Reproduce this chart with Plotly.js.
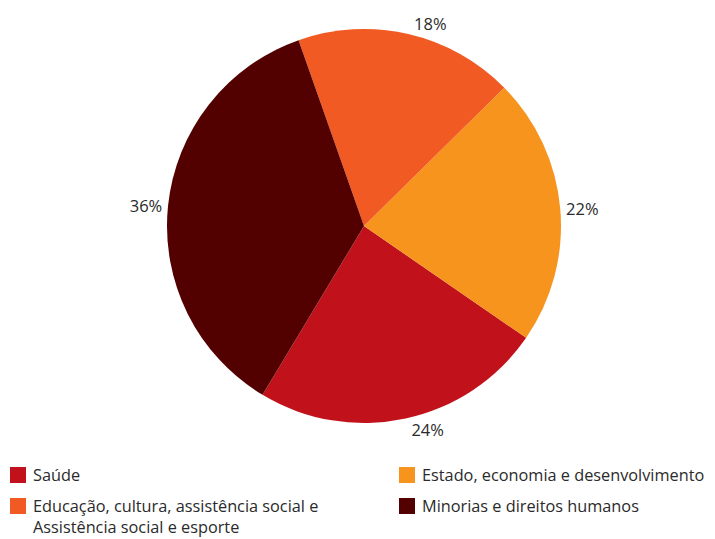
<!DOCTYPE html>
<html>
<head>
<meta charset="utf-8">
<script src="https://cdn.plot.ly/plotly-3.0.1.min.js"></script>
<style>html,body{margin:0;padding:0;background:#fff;}#chart{width:715px;height:539px;}</style>
</head>
<body>
<div id="chart"></div>
<script>
const categories = [
  "Saúde",
  "Estado, economia e desenvolvimento",
  "Educação, cultura, assistência social e<br>Assistência social e esporte",
  "Minorias e direitos humanos"
];
const values = [24, 22, 18, 36];
const colors = ["#C1121C", "#F7941D", "#F15A22", "#520000"];

const W = 715, H = 539;
const textColor = "#2a2a2a";
const fontFamily = "Open Sans, sans-serif";

const trace = {
  type: "pie",
  labels: categories,
  values: values,
  sort: false,
  direction: "counterclockwise",
  rotation: 124.6,
  marker: { colors: colors, line: { width: 0 } },
  textinfo: "percent",
  texttemplate: "%{percent:.0%}",
  textposition: "outside",
  outsidetextfont: { family: fontFamily, size: 16.5, color: textColor },
  hoverinfo: "label+percent",
  domain: { x: [167/W, 561/W], y: [1 - 423/H, 1 - 29/H] }
};

// Legend (two columns, row-wise), built from categories and colors
const legendCols = [{ sym: 10, txt: 32 }, { sym: 399, txt: 421 }];
const legendRowTop = [467, 498];
const symSize = 16;
const shapes = [];
const annotations = [];
categories.forEach((cat, i) => {
  const col = legendCols[i % 2];
  const top = legendRowTop[Math.floor(i / 2)];
  shapes.push({
    type: "rect", xref: "paper", yref: "paper",
    x0: col.sym / W, x1: (col.sym + symSize) / W,
    y0: 1 - top / H, y1: 1 - (top + symSize) / H,
    fillcolor: colors[i], line: { width: 0 }
  });
  const nLines = cat.split("<br>").length;
  const centerY = top + symSize / 2 + (nLines - 1) * 10;
  annotations.push({
    xref: "paper", yref: "paper",
    x: col.txt / W, y: 1 - centerY / H,
    xanchor: "left", yanchor: "middle", align: "left",
    borderpad: 0,
    text: cat, showarrow: false,
    font: { family: fontFamily, size: 16.3, color: textColor }
  });
});

const layout = {
  width: W,
  height: H,
  margin: { l: 0, r: 0, t: 0, b: 0 },
  paper_bgcolor: "#ffffff",
  showlegend: false,
  shapes: shapes,
  annotations: annotations,
  font: { family: fontFamily, color: textColor }
};

Plotly.newPlot("chart", [trace], layout, { displayModeBar: false, staticPlot: true });
</script>
</body>
</html>
